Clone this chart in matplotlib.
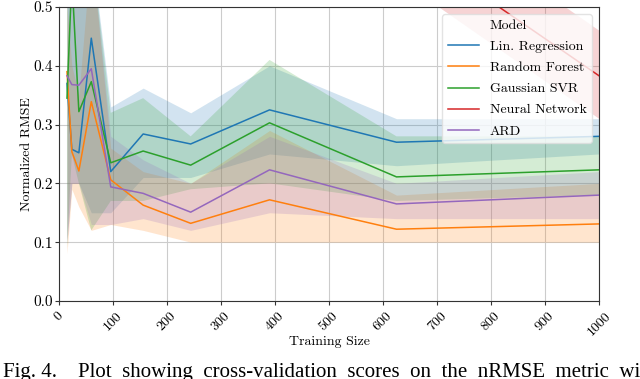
import matplotlib
matplotlib.use("Agg")
import matplotlib.pyplot as plt
from matplotlib.lines import Line2D

plt.rcParams['font.family'] = 'serif'
plt.rcParams['font.serif'] = ['cmr10', 'DejaVu Serif']
plt.rcParams['mathtext.fontset'] = 'cm'
plt.rcParams['axes.formatter.use_mathtext'] = True

# training sizes
sizes = [15, 24, 37, 60, 96, 156, 244, 390, 625, 1000]

models = ["Lin. Regression", "Random Forest", "Gaussian SVR", "Neural Network", "ARD"]
colors = ["tab:blue", "tab:orange", "tab:green", "tab:red", "tab:purple"]

lin_mean = [0.37, 0.258, 0.252, 0.447, 0.22, 0.284, 0.267, 0.325, 0.27, 0.28]
lin_low = [0.10, 0.20, 0.20, 0.15, 0.15, 0.21, 0.21, 0.25, 0.23, 0.25]
lin_high = [0.60, 0.60, 0.60, 0.60, 0.33, 0.362, 0.32, 0.40, 0.31, 0.31]

rf_mean = [0.39, 0.254, 0.221, 0.339, 0.206, 0.163, 0.132, 0.172, 0.122, 0.131]
rf_low = [0.08, 0.19, 0.16, 0.12, 0.13, 0.12, 0.10, 0.10, 0.10, 0.10]
rf_high = [0.50, 0.40, 0.35, 0.60, 0.26, 0.22, 0.20, 0.29, 0.18, 0.20]

svr_mean = [0.345, 0.55, 0.322, 0.373, 0.235, 0.255, 0.231, 0.303, 0.211, 0.223]
svr_low = [0.09, 0.25, 0.20, 0.12, 0.17, 0.17, 0.19, 0.20, 0.17, 0.18]
svr_high = [0.60, 0.80, 0.60, 0.60, 0.32, 0.345, 0.28, 0.41, 0.28, 0.28]

nn_mean = [3.0, 2.5, 2.0, 1.6, 1.3, 1.1, 0.9, 0.75, 0.62, 0.383]
nn_low = [2.0, 1.8, 1.5, 1.2, 1.0, 0.85, 0.7, 0.62, 0.55, 0.31]
nn_high = [4.0, 3.2, 2.5, 2.0, 1.6, 1.35, 1.1, 0.9, 0.70, 0.46]

ard_mean = [0.383, 0.368, 0.367, 0.395, 0.194, 0.183, 0.151, 0.223, 0.165, 0.18]
ard_low = [0.10, 0.20, 0.20, 0.13, 0.13, 0.14, 0.12, 0.15, 0.14, 0.14]
ard_high = [0.60, 0.50, 0.50, 0.60, 0.28, 0.24, 0.20, 0.28, 0.20, 0.22]

means = [lin_mean, rf_mean, svr_mean, nn_mean, ard_mean]
lows = [lin_low, rf_low, svr_low, nn_low, ard_low]
highs = [lin_high, rf_high, svr_high, nn_high, ard_high]

caption = "Fig. 4.    Plot  showing  cross-validation  scores  on  the  nRMSE  metric  with"

fig = plt.figure(figsize=(6.4, 3.79), dpi=100)
ax = fig.add_axes([0.092, 0.206, 0.844, 0.7755])

handles = [Line2D([], [], color="none")]
labels = ["Model"]
for name, c, m, lo, hi in zip(models, colors, means, lows, highs):
    ax.fill_between(sizes, lo, hi, color=c, alpha=0.2, linewidth=0)
    ln, = ax.plot(sizes, m, color=c, linewidth=1.1, label=name)
    handles.append(ln)
    labels.append(name)

ax.set_xlim(0, 1000)
ax.set_ylim(0, 0.5)
ax.set_xticks(range(0, 1001, 100))
ax.set_yticks([0.0, 0.1, 0.2, 0.3, 0.4, 0.5])
ax.set_yticklabels(["0.0", "0.1", "0.2", "0.3", "0.4", "0.5"], fontsize=11)
ax.set_xticklabels([str(v) for v in range(0, 1001, 100)], rotation=45,
                   ha="center", fontsize=10)
ax.grid(True, color="#cccccc", linewidth=0.8)
ax.set_axisbelow(True)
for s in ax.spines.values():
    s.set_color("#333333")
ax.tick_params(length=3, color="#333333")
ax.tick_params(axis="y", pad=1.5)

ax.set_xlabel("Training Size", fontsize=10)
ax.xaxis.set_label_coords(0.5, -0.12)
ax.set_ylabel("Normalized RMSE", fontsize=10)
ax.yaxis.set_label_coords(-0.047, 0.5)

leg = ax.legend(handles, labels, loc="upper right", fontsize=10,
                framealpha=0.8, edgecolor="#dddddd", borderaxespad=0.5,
                handlelength=2.2, labelspacing=0.6)

fig.text(3 / 640, 1 - 376.5 / 379, caption, fontsize=15,
         family="Liberation Serif", va="baseline", ha="left")

fig.savefig("out.png", dpi=100)
